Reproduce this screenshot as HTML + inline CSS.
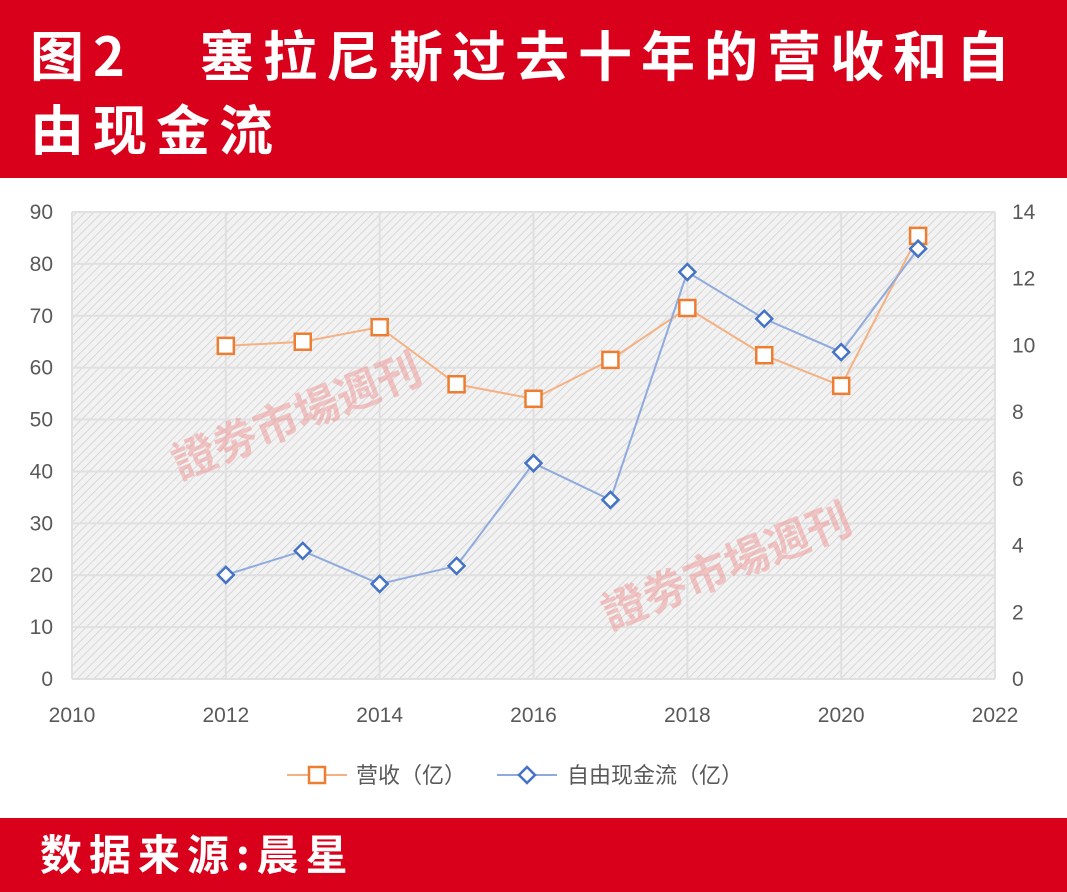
<!DOCTYPE html>
<html><head><meta charset="utf-8">
<style>
body{margin:0;width:1067px;height:892px;overflow:hidden;background:#fff;font-family:"Liberation Sans","Noto Sans CJK SC",sans-serif;}
#hdr{position:absolute;left:0;top:0;width:1067px;height:178px;background:#d9001b;}
#hdr div{position:absolute;left:30px;color:#fff;font-weight:bold;font-size:54px;letter-spacing:9px;font-family:"Noto Sans CJK SC",sans-serif;white-space:nowrap;line-height:1;}
#ftr{position:absolute;left:0;top:818px;width:1067px;height:74px;background:#d9001b;}
#ftr div{position:absolute;left:40px;top:14px;color:#fff;font-weight:bold;font-size:42px;letter-spacing:7px;line-height:1;font-family:"Noto Sans CJK SC",sans-serif;white-space:nowrap;}
svg{position:absolute;left:0;top:0;}
</style></head><body>
<div id="hdr">
<div style="top:26px">图2</div>
<div style="top:26px;left:200px">塞拉尼斯过去十年的营收和自</div>
<div style="top:100px">由现金流</div>
</div>
<svg id="chart" width="1067" height="892">
<defs><pattern id="hatch" width="6" height="6" patternUnits="userSpaceOnUse" patternTransform="rotate(45)">
<rect width="6" height="6" fill="#f2f2f2"/><line x1="0" y1="0" x2="0" y2="6" stroke="#cfcfcf" stroke-width="1.5"/></pattern></defs>
</svg>
<div id="ftr"><div>数据来源:晨星</div></div>
<script>
const years=[2012,2013,2014,2015,2016,2017,2018,2019,2020,2021];
const revenue=[64.2,65,67.8,56.8,54,61.5,71.5,62.4,56.5,85.4];
const fcf=[3.12,3.84,2.85,3.39,6.47,5.37,12.2,10.8,9.8,12.9];
const leftTicks=[0,10,20,30,40,50,60,70,80,90];
const rightTicks=[0,2,4,6,8,10,12,14];
const xTicks=[2010,2012,2014,2016,2018,2020,2022];
const NS="http://www.w3.org/2000/svg";
const svg=document.getElementById('chart');
const X0=72,X1=995,Y0=679,Y1=212;
const xs=v=>X0+(v-2010)/(2022-2010)*(X1-X0);
const yl=v=>Y0-v/90*(Y0-Y1);
const yr=v=>Y0-v/14*(Y0-Y1);
function mk(t,a,txt){const e=document.createElementNS(NS,t);for(const k in a)e.setAttribute(k,a[k]);if(txt!==undefined)e.textContent=txt;svg.appendChild(e);return e;}
let e=mk('rect',{x:X0,y:Y1,width:X1-X0,height:Y0-Y1,fill:'url(#hatch)'});


leftTicks.forEach(v=>{let g=mk('line',{x1:X0,x2:X1,y1:yl(v),y2:yl(v),stroke:'#e0e0e0','stroke-width':2});


let t=mk('text',{x:53,y:yl(v)+7,'text-anchor':'end','font-size':21,fill:'#595959'},v);

});
xTicks.forEach(v=>{let g=mk('line',{x1:xs(v),x2:xs(v),y1:Y1,y2:Y0,stroke:'#e0e0e0','stroke-width':2});


let t=mk('text',{x:xs(v),y:722,'text-anchor':'middle','font-size':21,fill:'#595959'},v);

});
rightTicks.forEach(v=>{let t=mk('text',{x:1012,y:yr(v)+7,'text-anchor':'start','font-size':21,fill:'#595959'},v);

});
let wm1=mk('text',{x:180,y:480,'font-size':44,fill:'#e88','fill-opacity':0.45,'font-weight':'bold',transform:'rotate(-22 180 480)'},'證劵市場週刊');


let wm2=mk('text',{x:610,y:630,'font-size':44,fill:'#e88','fill-opacity':0.45,'font-weight':'bold',transform:'rotate(-22 610 630)'},'證劵市場週刊');


let p1=mk('polyline',{points:years.map((y,i)=>xs(y)+','+yl(revenue[i])).join(' '),fill:'none',stroke:'#f4b183','stroke-width':2});


let p2=mk('polyline',{points:years.map((y,i)=>xs(y)+','+yr(fcf[i])).join(' '),fill:'none',stroke:'#8faadc','stroke-width':2});


years.forEach((y,i)=>{let r=mk('rect',{x:xs(y)-8,y:yl(revenue[i])-8,width:16,height:16,fill:'#fff',stroke:'#ed7d31','stroke-width':2.5});

});
years.forEach((y,i)=>{const cx=xs(y),cy=yr(fcf[i]);let d=mk('polygon',{points:`${cx},${cy-8} ${cx+8},${cy} ${cx},${cy+8} ${cx-8},${cy}`,fill:'#fff',stroke:'#4472c4','stroke-width':2.5});

});
let l1=mk('line',{x1:287,x2:347,y1:775,y2:775,stroke:'#f4b183','stroke-width':2});


let l1m=mk('rect',{x:309,y:767,width:16,height:16,fill:'#fff',stroke:'#ed7d31','stroke-width':2.5});


let l1t=mk('text',{x:356,y:783,'font-size':22,fill:'#595959'},'营收（亿）');


let l2=mk('line',{x1:497,x2:557,y1:775,y2:775,stroke:'#8faadc','stroke-width':2});


let l2m=mk('polygon',{points:'527,767 535,775 527,783 519,775',fill:'#fff',stroke:'#4472c4','stroke-width':2.5});


let l2t=mk('text',{x:567,y:783,'font-size':22,fill:'#595959'},'自由现金流（亿）');


</script>
</body></html>
